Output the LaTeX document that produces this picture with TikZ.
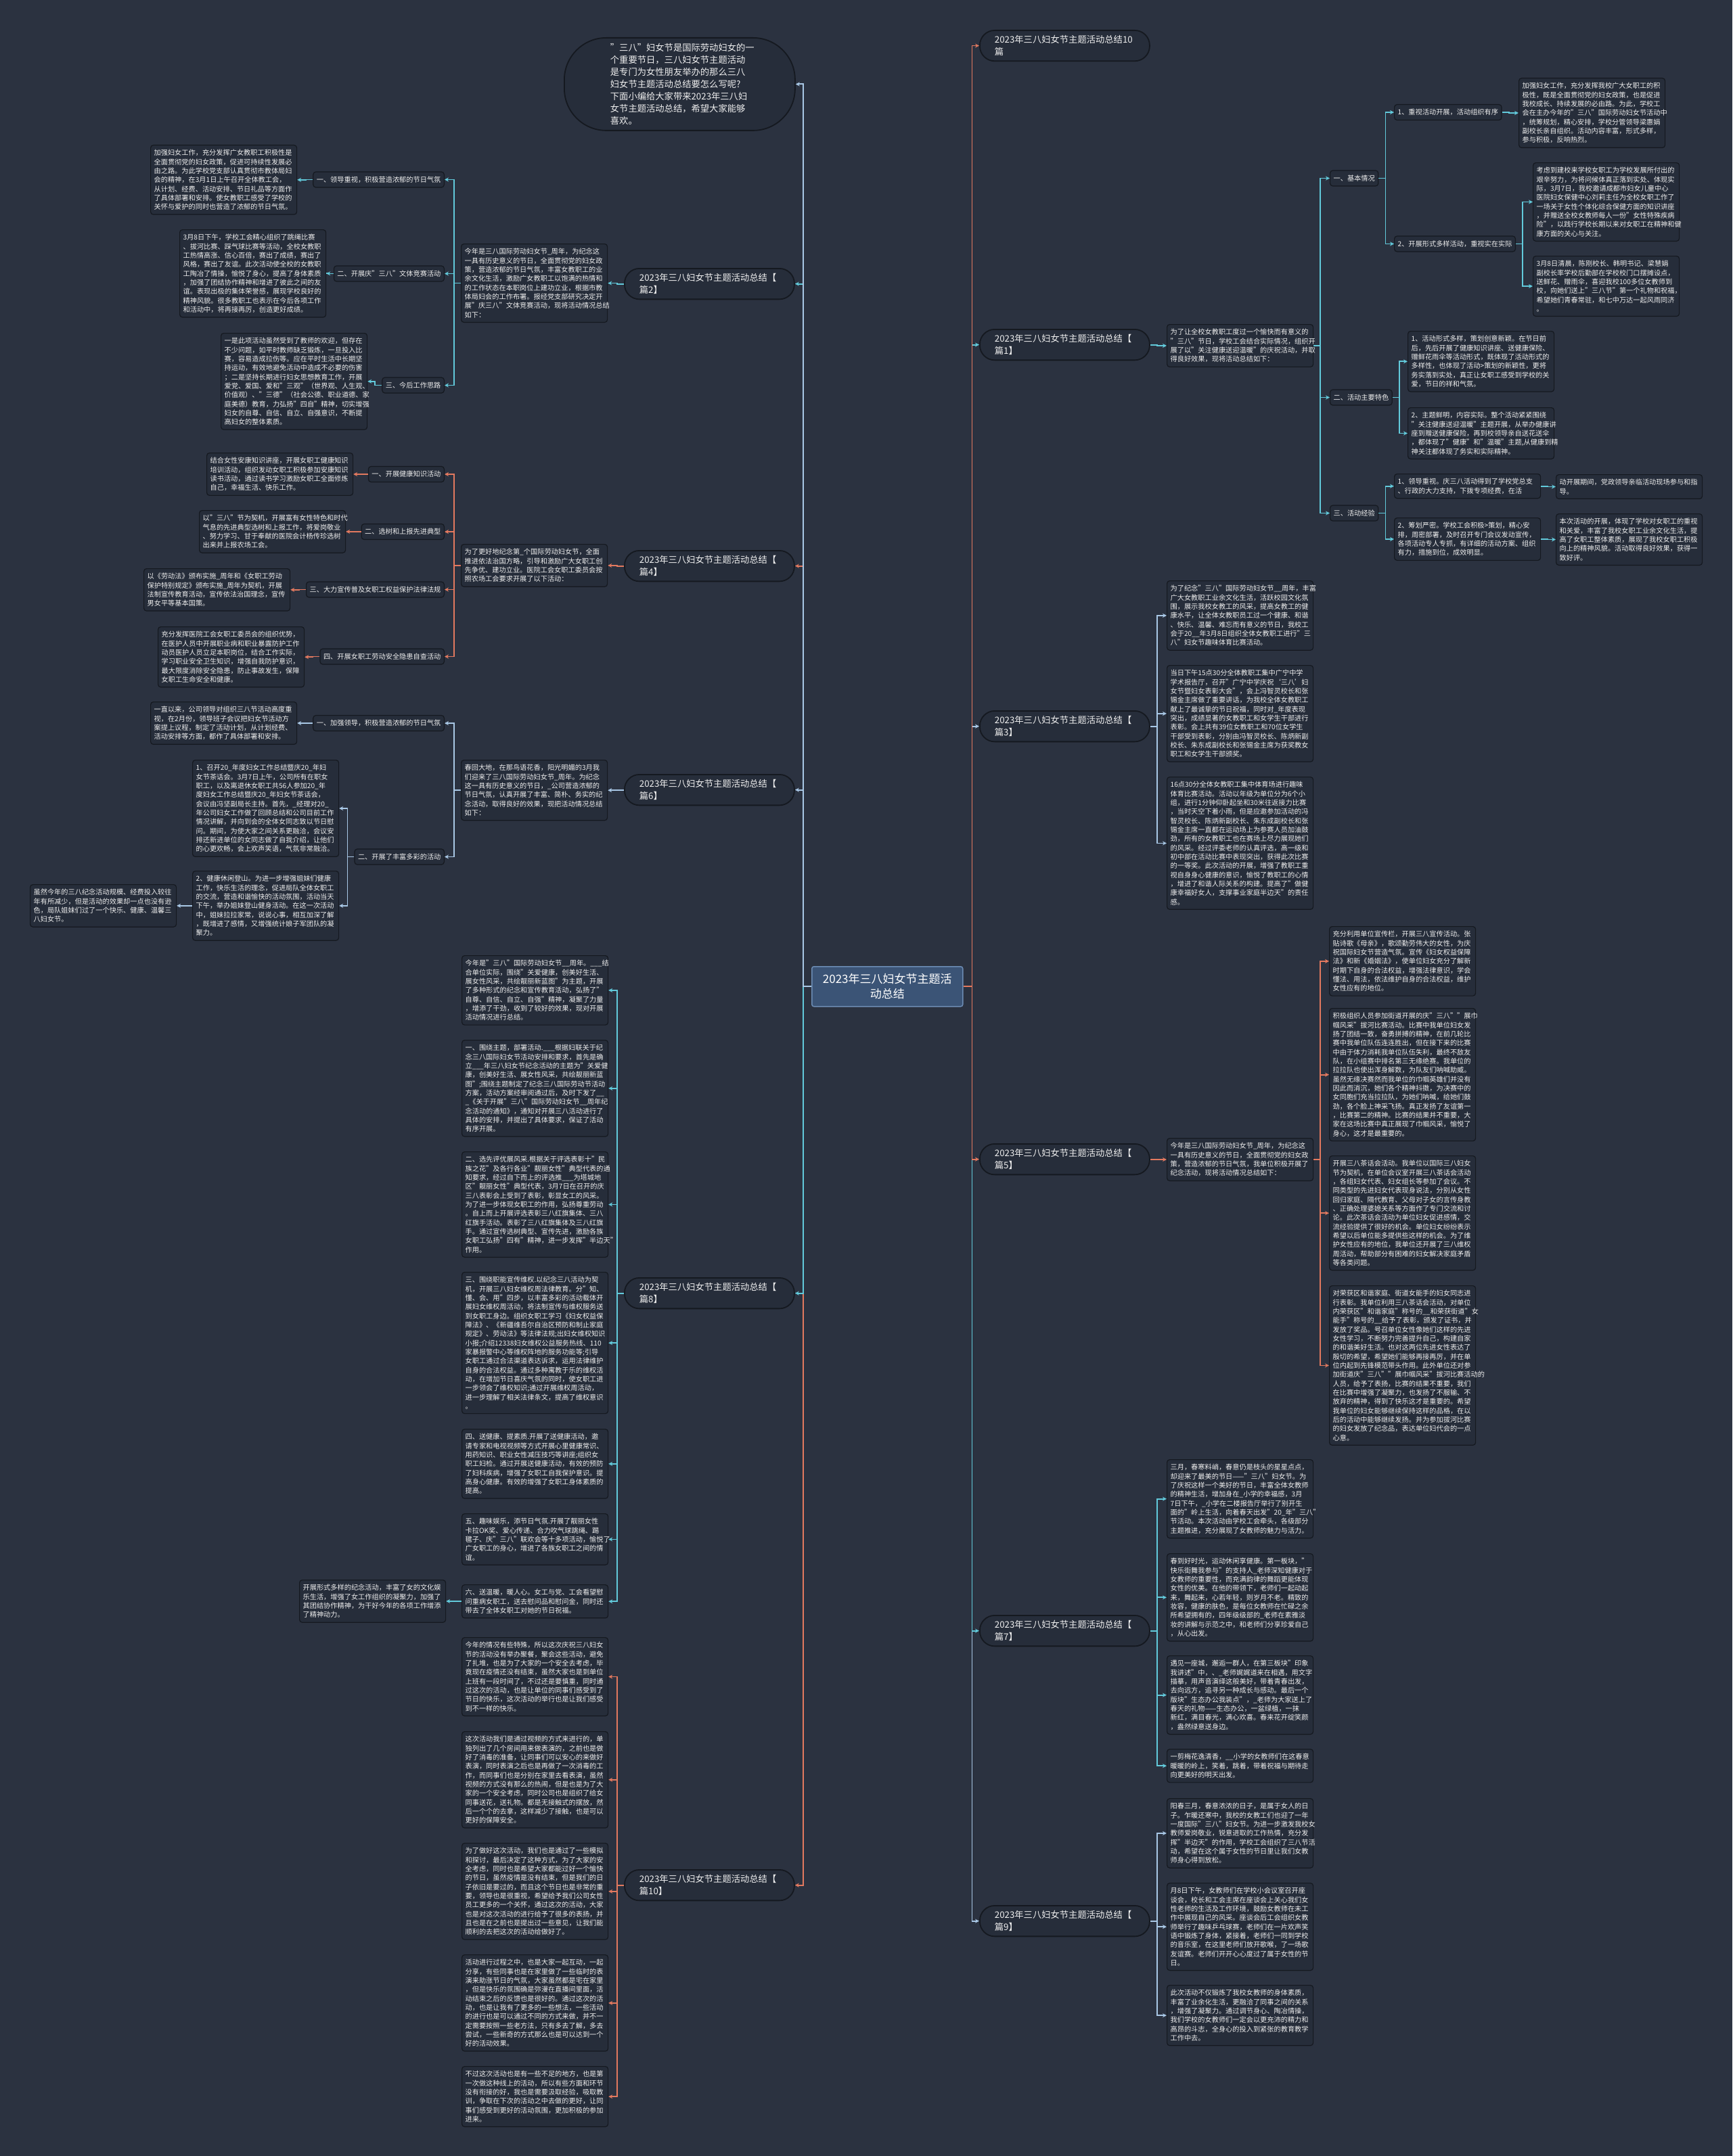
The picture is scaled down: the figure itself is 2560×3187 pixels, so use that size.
\documentclass[tikz,border=0pt]{standalone}
\usepackage{fontspec}
\setmainfont{Noto Sans CJK SC}
\usetikzlibrary{arrows.meta}
\definecolor{bgc}{HTML}{2B3240}
\definecolor{boxc}{HTML}{262D3A}
\definecolor{bord}{HTML}{151920}
\definecolor{txtc}{HTML}{EEEEEE}
\definecolor{ccy}{HTML}{62CADB}
\definecolor{csa}{HTML}{E3795F}
\definecolor{clb}{HTML}{A9C8E6}
\definecolor{ctrf}{HTML}{3B5476}
\definecolor{ctrd}{HTML}{6C8CB4}
\tikzset{
 tb/.style={draw=bord, fill=boxc, line width=1.2pt, rounded corners=4pt, text=txtc, font=\fontsize{10.2}{13.33}\selectfont, align=left, text width=206pt, inner xsep=5pt, inner ysep=6.5pt, anchor=north west},
 lb/.style={draw=bord, fill=boxc, line width=1.2pt, rounded corners=4pt, text=txtc, font=\fontsize{10.2}{13.33}\selectfont, inner xsep=5pt, inner ysep=3pt, minimum height=23pt},
 lv/.style={draw=bord, fill=boxc, line width=1.8pt, rounded corners=22pt, text=txtc, font=\fontsize{13.3}{18}\selectfont, align=left, text width=207pt, inner xsep=22pt, inner ysep=7.5pt, anchor=north west},
 cn/.style={draw=#1, line width=1.8pt, -{Stealth[length=6pt,width=6pt]}},
}
\newcommand\LinkL[3]{\draw[cn=#1] (#2.west) -- ++(-10,0) |- (#3.east);}
\newcommand\LinkR[3]{\draw[cn=#1] (#2.east) -- ++(10,0) |- (#3.west);}
\begin{document}
\begin{tikzpicture}[x=1pt,y=-1pt]
\fill[bgc] (0,0) rectangle (2560,3187);
\useasboundingbox (0,0) rectangle (2560,3187);

% centre
\node[draw=ctrd, fill=ctrf, line width=1.5pt, rounded corners=3pt, text=white, font=\fontsize{17}{22}\selectfont, align=center, minimum width=223pt, minimum height=59pt, anchor=north west] (ctr) at (1199,1428) {2023年三八妇女节主题活\\动总结};

% intro
\node[draw=bord, fill=boxc, line width=1.8pt, rounded corners=62pt, text=txtc, font=\fontsize{13.3}{17.9}\selectfont, align=left, text width=205pt, minimum width=341pt, minimum height=137pt, anchor=north west] (intro) at (833,55) {"三八"妇女节是国际劳动妇女的一\\个重要节日，三八妇女节主题活动\\是专门为女性朋友举办的那么三八\\妇女节主题活动总结要怎么写呢?\\下面小编给大家带来2023年三八妇\\女节主题活动总结，希望大家能够\\喜欢。};

% ---------- 篇2 ----------
\node[lv] (p2) at (922,396) {2023年三八妇女节主题活动总结【\\篇2】};
\node[tb] (s2) at (681,360) {今年是三八国际劳动妇女节\_周年，为纪念这\\一具有历史意义的节日，全面贯彻党的妇女政\\策，营造浓郁的节日气氛，丰富女教职工的业\\余文化生活，激励广女教职工以饱满的热情和\\的工作状态在本职岗位上建功立业，根据市教\\体局妇会的工作布署。报经党支部研究决定开\\展"庆三八"文体竞赛活动，现将活动情况总结\\如下：};
\node[lb, anchor=east] (s2a) at (657,265.5) {一、领导重视，积极营造浓郁的节日气氛};
\node[tb] (s2at) at (222,214) {加强妇女工作，充分发挥广女教职工积极性是\\全面贯彻党的妇女政策，促进可持续性发展必\\由之路。为此学校党支部认真贯彻市教体局妇\\会的精神，在3月1日上午召开全体教工会，\\从计划、经费、活动安排、节日礼品等方面作\\了具体部署和安排。使女教职工感受了学校的\\关怀与爱护的同时也营造了浓郁的节日气氛。};
\node[lb, anchor=east] (s2b) at (657,404.5) {二、开展庆"三八"文体竞赛活动};
\node[tb] (s2bt) at (265,339) {3月8日下午，学校工会精心组织了跳绳比赛\\、拔河比赛、踩气球比赛等活动，全校女教职\\工热情高涨、信心百倍，赛出了成绩，赛出了\\风格，赛出了友谊。此次活动使全校的女教职\\工陶冶了情操，愉悦了身心，提高了身体素质\\，加强了团结协作精神和增进了彼此之间的友\\谊。表现出极的集体荣誉感，展现学校良好的\\精神风貌。很多教职工也表示在今后各项工作\\和活动中，将再接再厉，创造更好成绩。};
\node[lb, anchor=east] (s2c) at (657,569.5) {三、今后工作思路};
\node[tb] (s2ct) at (326,492) {一是此项活动虽然受到了教师的欢迎，但存在\\不少问题，如平时教师缺乏锻炼，一旦投入比\\赛，容易造成拉伤等。应在平时生活中长期坚\\持运动，有效地避免活动中造成不必要的伤害\\；二是坚持长期进行妇女思想教育工作，开展\\爱党、爱国、爱和"三观"（世界观、人生观、\\价值观）、"三德"（社会公德、职业道德、家\\庭美德）教育，力弘扬"四自"精神，切实增强\\妇女的自尊、自信、自立、自强意识，不断提\\高妇女的整体素质。};

% ---------- 篇4 ----------
\node[lv] (p4) at (922,813) {2023年三八妇女节主题活动总结【\\篇4】};
\node[tb] (s4) at (681,804) {为了更好地纪念第\_个国际劳动妇女节，全面\\推进依法治国方略，引导和激励广大女职工创\\先争优、建功立业。医院工会女职工委员会按\\照农场工会要求开展了以下活动：};
\node[lb, anchor=east] (s4a) at (657,701) {一、开展健康知识活动};
\node[tb] (s4at) at (305,669) {结合女性安康知识讲座，开展女职工健康知识\\培训活动，组织发动女职工积极参加安康知识\\读书活动，通过读书学习激励女职工全面修炼\\自己，幸福生活、快乐工作。};
\node[lb, anchor=east] (s4b) at (657,786) {二、选树和上报先进典型};
\node[tb] (s4bt) at (294,754) {以"三八"节为契机，开展富有女性特色和时代\\气息的先进典型选树和上报工作，将爱岗敬业\\、努力学习、甘于奉献的医院会计杨传珍选树\\出来并上报农场工会。};
\node[lb, anchor=east] (s4c) at (657,871.5) {三、大力宣传普及女职工权益保护法律法规};
\node[tb] (s4ct) at (212,840) {以《劳动法》颁布实施\_周年和《女职工劳动\\保护特别规定》颁布实施\_周年为契机，开展\\法制宣传教育活动，宣传依法治国理念，宣传\\男女平等基本国策。};
\node[lb, anchor=east] (s4d) at (657,970.5) {四、开展女职工劳动安全隐患自查活动};
\node[tb] (s4dt) at (233,926) {充分发挥医院工会女职工委员会的组织优势，\\在医护人员中开展职业病和职业暴露防护工作\\动员医护人员立足本职岗位，结合工作实际，\\学习职业安全卫生知识，增强自我防护意识，\\最大限度消除安全隐患，防止事故发生，保障\\女职工生命安全和健康。};

% ---------- 篇6 ----------
\node[lv] (p6) at (922,1144) {2023年三八妇女节主题活动总结【\\篇6】};
\node[tb] (s6) at (681,1123) {春回大地，在那鸟语花香，阳光明媚的3月我\\们迎来了三八国际劳动妇女节\_周年。为纪念\\这一具有历史意义的节日，\_公司营造浓郁的\\节日气氛，认真开展了丰富、简朴、务实的纪\\念活动，取得良好的效果，现把活动情况总结\\如下：};
\node[lb, anchor=east] (s6a) at (657,1069) {一、加强领导，积极营造浓郁的节日气氛};
\node[tb] (s6at) at (222,1037) {一直以来，公司领导对组织三八节活动高度重\\视，在2月份，领导班子会议把妇女节活动方\\案提上议程，制定了活动计划，从计划经费、\\活动安排等方面，都作了具体部署和安排。};
\node[lb, anchor=east] (s6b) at (657,1266.5) {二、开展了丰富多彩的活动};
\node[tb] (s6b1) at (284,1123) {1、召开20\_年度妇女工作总结暨庆20\_年妇\\女节茶话会。3月7日上午，公司所有在职女\\职工，以及离退休女职工共56人参加20\_年\\度妇女工作总结暨庆20\_年妇女节茶话会，\\会议由冯坚副局长主持。首先，\_经理对20\_\\年公司妇女工作做了回顾总结和公司目前工作\\情况讲解，并向到会的全体女同志致以节日慰\\问。期间，为使大家之间关系更融洽，会议安\\排还新进单位的女同志做了自我介绍，让他们\\的心更欢畅，会上欢声笑语，气氛非常融洽。};
\node[tb] (s6b2) at (284,1287) {2、健康休闲登山。为进一步增强姐妹们健康\\工作，快乐生活的理念，促进局队全体女职工\\的交流，营造和谐愉快的活动氛围，活动当天\\下午，举办姐妹登山健身活动。在这一次活动\\中，姐妹拉拉家常，说说心事，相互加深了解\\，既增进了感情，又增强统计娘子军团队的凝\\聚力。};
\node[tb] (s6b2c) at (44,1307) {虽然今年的三八纪念活动规模、经费投入较往\\年有所减少，但是活动的效果却一点也没有逊\\色，局队姐妹们过了一个快乐、健康、温馨三\\八妇女节。};

% ---------- 篇8 ----------
\node[lv] (p8) at (922,1888) {2023年三八妇女节主题活动总结【\\篇8】};
\node[tb] (e1) at (682,1412) {今年是"三八"国际劳动妇女节\_\_周年。\_\_\_结\\合单位实际，围绕"关爱健康，创美好生活、\\展女性风采，共绘靓丽新蓝图"为主题，开展\\了多种形式的纪念和宣传教育活动，弘扬了"\\自尊、自信、自立、自强"精神，凝聚了力量\\，增添了干劲，收到了较好的效果，现对开展\\活动情况进行总结。};
\node[tb] (e2) at (682,1537) {一、围绕主题，部署活动.\_\_\_根据妇联关于纪\\念三八国际妇女节活动安排和要求，首先是确\\立\_\_\_年三八妇女节纪念活动的主题为"关爱健\\康，创美好生活、展女性风采，共绘靓丽新蓝\\图";围绕主题制定了纪念三八国际劳动节活动\\方案，活动方案经审阅通过后，及时下发了\_\_\\\_《关于开展"三八"国际劳动妇女节\_\_周年纪\\念活动的通知》，通知对开展三八活动进行了\\具体的安排，并提出了具体要求，保证了活动\\有序开展。};
\node[tb] (e3) at (682,1702) {二、选先评优展风采.根据关于评选表彰十"民\\族之花"及各行各业"靓丽女性"典型代表的通\\知要求，经过自下而上的评选推\_\_\_为塔城地\\区"靓丽女性"典型代表，3月7日在召开的庆\\三八表彰会上受到了表彰，彰显女工的风采。\\为了进一步体现女职工的作用，弘扬尊重劳动\\。自上而上开展评选表彰三八红旗集体、三八\\红旗手活动。表彰了三八红旗集体及三八红旗\\手。通过宣传选树典型、宣传先进，激励各族\\女职工弘扬"四有"精神，进一步发挥"半边天"\\作用。};
\node[tb] (e4) at (682,1880) {三、围绕职能宣传维权.以纪念三八活动为契\\机，开展三八妇女维权周法律教育。分"知、\\懂、会、用"四步，以丰富多彩的活动载体开\\展妇女维权周活动，将法制宣传与维权服务送\\到女职工身边。组织女职工学习《妇女权益保\\障法》、《新疆维吾尔自治区预防和制止家庭\\规定》、劳动法》等法律法规;出妇女维权知识\\小报;介绍12338妇女维权公益服务热线、110\\家暴报警中心等维权阵地的服务功能等;引导\\女职工通过合法渠道表达诉求，运用法律维护\\自身的合法权益。通过多种寓教于乐的维权活\\动，在增加节日喜庆气氛的同时，使女职工进\\一步领会了维权知识;通过开展维权周活动，\\进一步理解了相关法律条文，提高了维权意识\\。};
\node[tb] (e5) at (682,2112) {四、送健康、提素质.开展了送健康活动，邀\\请专家和电视视频等方式开展心里健康常识、\\用药知识、职业女性减压技巧等讲座;组织女\\职工妇检。通过开展送健康活动，有效的预防\\了妇科疾病，增强了女职工自我保护意识。提\\高身心健康。有效的增强了女职工身体素质的\\提高。};
\node[tb] (e6) at (682,2237) {五、趣味娱乐，添节日气氛.开展了靓丽女性\\卡拉OK奖、爱心传递、合力吹气球跳绳、踢\\毽子、庆"三八"联欢会等十多项活动，愉悦了\\广女职工的身心，增进了各族女职工之间的情\\谊。};
\node[tb] (e7) at (682,2342) {六、送温暖，暖人心。女工与党、工会看望慰\\问重病女职工，送去慰问品和慰问金，同时还\\带去了全体女职工对她的节日祝福。};
\node[tb] (e7c) at (442,2335) {开展形式多样的纪念活动，丰富了女的文化娱\\乐生活，增强了女工作组织的凝聚力，加强了\\其团结协作精神，为干好今年的各项工作增添\\了精神动力。};

% ---------- 篇10 ----------
\node[lv] (p10) at (922,2763) {2023年三八妇女节主题活动总结【\\篇10】};
\node[tb] (t1) at (682,2420) {今年的情况有些特殊，所以这次庆祝三八妇女\\节的活动没有举办聚餐，聚会这些活动，避免\\了扎堆，也是为了大家的一个安全去考虑，毕\\竟现在疫情还没有结束，虽然大家也是到单位\\上班有一段时间了，不过还是要慎重，同时通\\过这次的活动，也是让单位的同事们感受到了\\节日的快乐，这次活动的举行也是让我们感受\\到不一样的快乐。};
\node[tb] (t2) at (682,2559) {这次活动我们是通过视频的方式来进行的，单\\独列出了几个房间用来做表演的，之前也是做\\好了消毒的准备，让同事们可以安心的来做好\\表演，同时表演之后也是再做了一次消毒的工\\作，而同事们也是分别在家里去看表演，虽然\\视频的方式没有那么的热闹，但是也是为了大\\家的一个安全考虑，同时公司也是组织了给女\\同事送花，送礼物。都是无接触式的摆放，然\\后一个个的去拿，这样减少了接触，也是可以\\更好的保障安全。};
\node[tb] (t3) at (682,2724) {为了做好这次活动，我们也是通过了一些模拟\\和探讨，最后决定了这种方式，为了大家的安\\全考虑，同时也是希望大家都能过好一个愉快\\的节日，虽然疫情是没有结束，但是我们的日\\子依旧是要过的，而且这个节日也是非常的重\\要，领导也是很重视，希望给予我们公司女性\\员工更多的一个关怀，通过这次的活动，大家\\也是对这次活动的进行给予了很多的表扬，并\\且也是在之前也是提出过一些意见，让我们能\\顺利的去把这次的活动给做好了。};
\node[tb] (t4) at (682,2889) {活动进行过程之中，也是大家一起互动，一起\\分享，有些同事也是在家里做了一些临时的表\\演来助涨节日的气氛，大家虽然都是宅在家里\\，但是快乐的氛围确是弥漫在直播间里面，活\\动结束之后的反馈也是很好的。通过这次的活\\动，也是让我有了更多的一些想法，一些活动\\的进行也是可以通过不同的方式来做，并不一\\定需要按照一些老方法，只有多去了解，多去\\尝试，一些新奇的方式那么也是可以达到一个\\好的活动效果。};
\node[tb] (t5) at (682,3054) {不过这次活动也是有一些不足的地方，也是第\\一次做这种线上的活动，所以有些方面和环节\\没有衔接的好，我也是需要汲取经验，吸取教\\训，争取在下次的活动之中去做的更好，让同\\事们感受到更好的活动氛围，更加积极的参加\\进来。};

% ---------- right: 10篇 ----------
\node[lv] (p0) at (1447,44) {2023年三八妇女节主题活动总结10\\篇};

% ---------- 篇1 ----------
\node[lv] (p1) at (1447,486) {2023年三八妇女节主题活动总结【\\篇1】};
\node[tb] (r1s) at (1724,479) {为了让全校女教职工度过一个愉快而有意义的\\"三八"节日，学校工会结合实际情况，组织开\\展了以"关注健康送迎温暖"的庆祝活动，并取\\得良好效果，现将活动总结如下：};
\node[lb, anchor=west] (r1a) at (1965,263.5) {一、基本情况};
\node[lb, anchor=west] (r1a1) at (2060,166) {1、重视活动开展，活动组织有序};
\node[tb] (r1a1t) at (2244,115) {加强妇女工作，充分发挥我校广大女职工的积\\极性，既是全面贯彻党的妇女政策，也是促进\\我校成长、持续发展的必由路。为此，学校工\\会在主办今年的"三八"国际劳动妇女节活动中\\，统筹规划，精心安排，学校分管领导梁惠娟\\副校长亲自组织。活动内容丰富，形式多样，\\参与积极，反响热烈。};
\node[lb, anchor=west] (r1a2) at (2060,360.5) {2、开展形式多样活动，重视实在实际};
\node[tb] (r1a2a) at (2265,240) {考虑到建校来学校女职工为学校发展所付出的\\艰辛努力，为将问候体真正落到实处、体现实\\际，3月7日，我校邀请成都市妇女儿童中心\\医院妇女保健中心刘莉主任为全校女职工作了\\一场关于女性个体化综合保健方面的知识讲座\\，并赠送全校女教师每人一份"女性特殊疾病\\险"，以践行学校长期以来对女职工在精神和健\\康方面的关心与关注。};
\node[tb] (r1a2b) at (2265,378) {3月8日清晨，陈刚校长、韩明书记、梁慧娟\\副校长率学校后勤部在学校校门口摆摊设点，\\送鲜花、赠雨伞，喜迎我校100多位女教师到\\校，向她们送上"三八节"第一个礼物和祝福，\\希望她们青春常驻，和七中万达一起风雨同济\\。};
\node[lb, anchor=west] (r1b) at (1965,587.5) {二、活动主要特色};
\node[tb] (r1b1) at (2080,489) {1、活动形式多样，策划创意新颖。在节日前\\后，先后开展了健康知识讲座、送健康保险、\\赠鲜花雨伞等活动形式，既体现了活动形式的\\多样性，也体现了活动>策划的新颖性，更将\\务实落到实处，真正让女职工感受到学校的关\\爱，节日的祥和气氛。};
\node[tb] (r1b2) at (2080,602) {2、主题鲜明，内容实际。整个活动紧紧围绕\\"关注健康送迎温暖"主题开展，从举办健康讲\\座到赠送健康保险，再到校领导亲自送花送伞\\，都体现了"健康"和"温暖"主题,从健康到精\\神关注都体现了务实和实际精神。};
\node[lb, anchor=west] (r1c) at (1965,758.5) {三、活动经验};
\node[tb] (r1c1) at (2060,700) {1、领导重视。庆三八活动得到了学校党总支\\、行政的大力支持，下拨专项经费，在活};
\node[tb] (r1c1c) at (2299,701) {动开展期间，党政领导亲临活动现场参与和指\\导。};
\node[tb] (r1c2) at (2060,765) {2、筹划严密。学校工会积极>策划，精心安\\排，周密部署，及时召开专门会议发动宣传，\\各项活动专人专抓，有详细的活动方案、组织\\有力，措施到位，成效明显。};
\node[tb] (r1c2c) at (2299,759) {本次活动的开展，体现了学校对女职工的重视\\和关爱，丰富了我校女职工业余文化生活，提\\高了女职工整体素质，展现了我校女职工积极\\向上的精神风貌。活动取得良好效果，获得一\\致好评。};

% ---------- 篇3 ----------
\node[lv] (p3) at (1447,1050) {2023年三八妇女节主题活动总结【\\篇3】};
\node[tb] (u1) at (1724,858) {为了纪念"三八"国际劳动妇女节\_\_周年，丰富\\广大女教职工业余文化生活，活跃校园文化氛\\围，展示我校女教工的风采，提高女教工的健\\康水平，让全体女教职员工过一个健康、和谐\\、快乐、温馨、难忘而有意义的节日，我校工\\会于20\_\_年3月8日组织全体女教职工进行"三\\八"妇女节趣味体育比赛活动。};
\node[tb] (u2) at (1724,983) {当日下午15点30分全体教职工集中广宁中学\\学术报告厅，召开"广宁中学庆祝‘三八’妇\\女节暨妇女表彰大会"，会上冯智灵校长和张\\锡金主席做了重要讲话，为我校全体女教职工\\献上了最诚挚的节日祝福，同时对\_年度表现\\突出，成绩显著的女教职工和女学生干部进行\\表彰。会上共有39位女教职工和70位女学生\\干部受到表彰，分别由冯智灵校长、陈炳新副\\校长、朱东成副校长和张锡金主席为获奖教女\\职工和女学生干部颁奖。};
\node[tb] (u3) at (1724,1148) {16点30分全体女教职工集中体育场进行趣味\\体育比赛活动。活动以年级为单位分为6个小\\组，进行1分钟仰卧起坐和30米往返接力比赛\\，当时天空下着小雨，但是应邀参加活动的冯\\智灵校长、陈炳新副校长、朱东成副校长和张\\锡金主席一直都在运动场上为参赛人员加油鼓\\劲，所有的女教职工也在赛场上尽力展现她们\\的风采。经过评委老师的认真评选，高一级和\\初中部在活动比赛中表现突出，获得此次比赛\\的一等奖。此次活动的开展，增强了教职工重\\视自身身心健康的意识，愉悦了教职工的心情\\，增进了和谐人际关系的构建。提高了"做健\\康幸福好女人，支撑事业家庭半边天"的责任\\感。};

% ---------- 篇5 ----------
\node[lv] (p5) at (1447,1690) {2023年三八妇女节主题活动总结【\\篇5】};
\node[tb] (s5) at (1724,1682) {今年是三八国际劳动妇女节\_周年，为纪念这\\一具有历史意义的节日，全面贯彻党的妇女政\\策，营造浓郁的节日气氛，我单位积极开展了\\纪念活动，现将活动情况总结如下：};
\node[tb] (v1) at (1964,1369) {充分利用单位宣传栏，开展三八宣传活动。张\\贴诗歌《母亲》，歌颂勤劳伟大的女性，为庆\\祝国际妇女节营造气氛。宣传《妇女权益保障\\法》和新《婚姻法》，使单位妇女充分了解新\\时期下自身的合法权益，增强法律意识，学会\\懂法、用法，依法维护自身的合法权益，维护\\女性应有的地位。};
\node[tb] (v2) at (1964,1490) {积极组织人员参加街道开展的庆"三八""展巾\\帼风采"拔河比赛活动。比赛中我单位妇女发\\扬了团结一致，奋勇拼搏的精神，在前几轮比\\赛中我单位队伍连连胜出，但在接下来的比赛\\中由于体力消耗我单位队伍失利，最终不敌友\\队，在小组赛中排名第三无缘绝赛。我单位的\\拉拉队也使出浑身解数，为队友们呐喊助威。\\虽然无缘决赛然而我单位的巾帼英雄们并没有\\因此而消沉，她们各个精神抖擞，为决赛中的\\女同胞们充当拉拉队，为她们呐喊，给她们鼓\\劲，各个脸上神采飞扬。真正发扬了友谊第一\\，比赛第二的精神。比赛的结果并不重要，大\\家在这场比赛中真正展现了巾帼风采，愉悦了\\身心，这才是最重要的。};
\node[tb] (v3) at (1964,1708) {开展三八茶话会活动。我单位以国际三八妇女\\节为契机，在单位会议室开展三八茶话会活动\\，各组妇女代表、妇女组长等参加了会议。不\\同类型的先进妇女代表现身说法，分别从女性\\回归家庭、隔代教育、父母对子女的言传身教\\、正确处理婆媳关系等方面作了专门交流和讨\\论。此次茶话会活动为单位妇女促进感情，交\\流经验提供了很好的机会。单位妇女纷纷表示\\希望以后单位能多提供些这样的机会。为了维\\护女性应有的地位，我单位还开展了三八维权\\周活动，帮助部分有困难的妇女解决家庭矛盾\\等各类问题。};
\node[tb] (v4) at (1964,1900) {对荣获区和谐家庭、街道女能手的妇女同志进\\行表彰。我单位利用三八茶话会活动，对单位\\内荣获区"和谐家庭"称号的\_\_和荣获街道"女\\能手"称号的\_\_给予了表彰，颁发了证书，并\\发放了奖品。号召单位女性像她们这样的先进\\女性学习，不断努力完善提升自己，构建自家\\的和谐美好生活。也对这两位先进女性表达了\\殷切的希望，希望她们能够再接再厉，并在单\\位内起到先锋模范带头作用。此外单位还对参\\加街道庆"三八""展巾帼风采"拔河比赛活动的\\人员，给予了表扬，比赛的结果不重要，我们\\在比赛中增强了凝聚力，也发扬了不服输、不\\放弃的精神，得到了快乐这才是重要的。希望\\我单位的妇女能够继续保持这样的品格，在以\\后的活动中能够继续发扬。并为参加拔河比赛\\的妇女发放了纪念品，表达单位妇代会的一点\\心意。};

% ---------- 篇7 ----------
\node[lv] (p7) at (1447,2387) {2023年三八妇女节主题活动总结【\\篇7】};
\node[tb] (w1) at (1724,2157) {三月，春寒料峭，春意仍是枝头的星星点点，\\却迎来了最美的节日——"三八"妇女节。为\\了庆祝这样一个美好的节日，丰富全体女教师\\的精神生活，增加身在\_小学的幸福感，3月\\7日下午，\_小学在二楼报告厅举行了别开生\\面的"岭上生活，向着春天出发"20\_年"三八"\\节活动。本次活动由学校工会牵头，各级部分\\主题推进，充分展现了女教师的魅力与活力。};
\node[tb] (w2) at (1724,2296) {春到好时光，运动休闲享健康。第一板块，"\\快乐街舞我参与"的支持人\_老师深知健康对于\\女教师的重要性，而充满韵律的舞蹈更能体现\\女性的优美。在他的带领下，老师们一起动起\\来，舞起来，心若年轻，则岁月不老。精致的\\妆容，健康的肤色，是每位女教师在忙碌之余\\所希望拥有的，四年级级部的\_老师在素雅淡\\妆的讲解与示范之中，和老师们分享珍爱自己\\，从心出发。};
\node[tb] (w3) at (1724,2447) {遇见一座城，邂逅一群人，在第三板块"印象\\我讲述"中，、\_老师娓娓道来在相遇，用文字\\描摹，用声音演绎这般美好，带着青春出发，\\去向远方，追寻另一种成长与感动。最后一个\\版块"生态办公我装点"，\_老师为大家送上了\\春天的礼物——生态办公，一盆绿植，一抹\\新红，满目春光，满心欢喜。春来花开绽笑颜\\，盎然绿意送身边。};
\node[tb] (w4) at (1724,2585) {一剪梅花逸清香，\_\_小学的女教师们在这春意\\暖暖的岭上，笑着，跳着，带着祝福与期待走\\向更美好的明天出发。};

% ---------- 篇9 ----------
\node[lv] (p9) at (1447,2816) {2023年三八妇女节主题活动总结【\\篇9】};
\node[tb] (z1) at (1724,2658) {阳春三月，春意浓浓的日子，是属于女人的日\\子。乍暖还寒中，我校的女教工们也迎了一年\\一度国际"三八"妇女节。为进一步激发我校女\\教师爱岗敬业，锐意进取的工作热情，充分发\\挥"半边天"的作用，学校工会组织了三八节活\\动，希望在这个属于女性的节日里让我们女教\\师身心得到放松。};
\node[tb] (z2) at (1724,2783) {月8日下午，女教师们在学校小会议室召开座\\谈会，校长和工会主席在座谈会上关心我们女\\性老师的生活及工作环境，鼓励女教师在未工\\作中展现自己的风采。座谈会后工会组织女教\\师举行了趣味乒乓球赛，老师们在一片欢声笑\\语中锻炼了身体，紧接着，老师们一同到学校\\的音乐室，在这里老师们放开歌喉，了一场歌\\友谊赛。老师们开开心心度过了属于女性的节\\日。};
\node[tb] (z3) at (1724,2934) {此次活动不仅锻炼了我校女教师的身体素质，\\丰富了业余化生活，更融洽了同事之间的关系\\，增强了凝聚力。通过调节身心、陶冶情操，\\我们学校的女教师们一定会以更充沛的精力和\\高昂的斗志，全身心的投入到紧张的教育教学\\工作中去。};

% ================= connectors =================
% centre -> left
\draw[cn=csa] (ctr.west) -- ++(-12,0) |- (p10.east);
\draw[cn=ccy] (ctr.west) -- ++(-12,0) |- (p8.east);
\draw[cn=clb] (ctr.west) -- ++(-12,0) |- (p6.east);
\draw[cn=csa] (ctr.west) -- ++(-12,0) |- (p4.east);
\draw[cn=ccy] (ctr.west) -- ++(-12,0) |- (p2.east);
\draw[cn=clb] (ctr.west) -- ++(-12,0) |- (intro.east);
% centre -> right
\draw[cn=clb] (ctr.east) -- ++(13,0) |- (p9.west);
\draw[cn=ccy] (ctr.east) -- ++(13,0) |- (p7.west);
\draw[cn=csa] (ctr.east) -- ++(13,0) |- (p5.west);
\draw[cn=clb] (ctr.east) -- ++(13,0) |- (p3.west);
\draw[cn=ccy] (ctr.east) -- ++(13,0) |- (p1.west);
\draw[cn=csa] (ctr.east) -- ++(13,0) |- (p0.west);

% 篇2
\LinkL{ccy}{p2}{s2}
\LinkL{ccy}{s2}{s2a}
\LinkL{ccy}{s2}{s2b}
\LinkL{ccy}{s2}{s2c}
\LinkL{ccy}{s2a}{s2at}
\LinkL{ccy}{s2b}{s2bt}
\LinkL{ccy}{s2c}{s2ct}
% 篇4
\LinkL{csa}{p4}{s4}
\LinkL{csa}{s4}{s4a}
\LinkL{csa}{s4}{s4b}
\LinkL{csa}{s4}{s4c}
\LinkL{csa}{s4}{s4d}
\LinkL{csa}{s4a}{s4at}
\LinkL{csa}{s4b}{s4bt}
\LinkL{csa}{s4c}{s4ct}
\LinkL{csa}{s4d}{s4dt}
% 篇6
\LinkL{clb}{p6}{s6}
\LinkL{clb}{s6}{s6a}
\LinkL{clb}{s6}{s6b}
\LinkL{clb}{s6a}{s6at}
\LinkL{clb}{s6b}{s6b1}
\LinkL{clb}{s6b}{s6b2}
\LinkL{clb}{s6b2}{s6b2c}
% 篇8
\LinkL{ccy}{p8}{e1}
\LinkL{ccy}{p8}{e2}
\LinkL{ccy}{p8}{e3}
\LinkL{ccy}{p8}{e4}
\LinkL{ccy}{p8}{e5}
\LinkL{ccy}{p8}{e6}
\LinkL{ccy}{p8}{e7}
\LinkL{ccy}{e7}{e7c}
% 篇10
\LinkL{csa}{p10}{t1}
\LinkL{csa}{p10}{t2}
\LinkL{csa}{p10}{t3}
\LinkL{csa}{p10}{t4}
\LinkL{csa}{p10}{t5}
% 篇1
\LinkR{ccy}{p1}{r1s}
\LinkR{ccy}{r1s}{r1a}
\LinkR{ccy}{r1s}{r1b}
\LinkR{ccy}{r1s}{r1c}
\LinkR{ccy}{r1a}{r1a1}
\LinkR{ccy}{r1a}{r1a2}
\LinkR{ccy}{r1a1}{r1a1t}
\LinkR{ccy}{r1a2}{r1a2a}
\LinkR{ccy}{r1a2}{r1a2b}
\LinkR{ccy}{r1b}{r1b1}
\LinkR{ccy}{r1b}{r1b2}
\LinkR{ccy}{r1c}{r1c1}
\LinkR{ccy}{r1c}{r1c2}
\LinkR{ccy}{r1c1}{r1c1c}
\LinkR{ccy}{r1c2}{r1c2c}
% 篇3
\LinkR{clb}{p3}{u1}
\LinkR{clb}{p3}{u2}
\LinkR{clb}{p3}{u3}
% 篇5
\LinkR{csa}{p5}{s5}
\LinkR{csa}{s5}{v1}
\LinkR{csa}{s5}{v2}
\LinkR{csa}{s5}{v3}
\LinkR{csa}{s5}{v4}
% 篇7
\LinkR{ccy}{p7}{w1}
\LinkR{ccy}{p7}{w2}
\LinkR{ccy}{p7}{w3}
\LinkR{ccy}{p7}{w4}
% 篇9
\LinkR{clb}{p9}{z1}
\LinkR{clb}{p9}{z2}
\LinkR{clb}{p9}{z3}
\end{tikzpicture}
\end{document}
